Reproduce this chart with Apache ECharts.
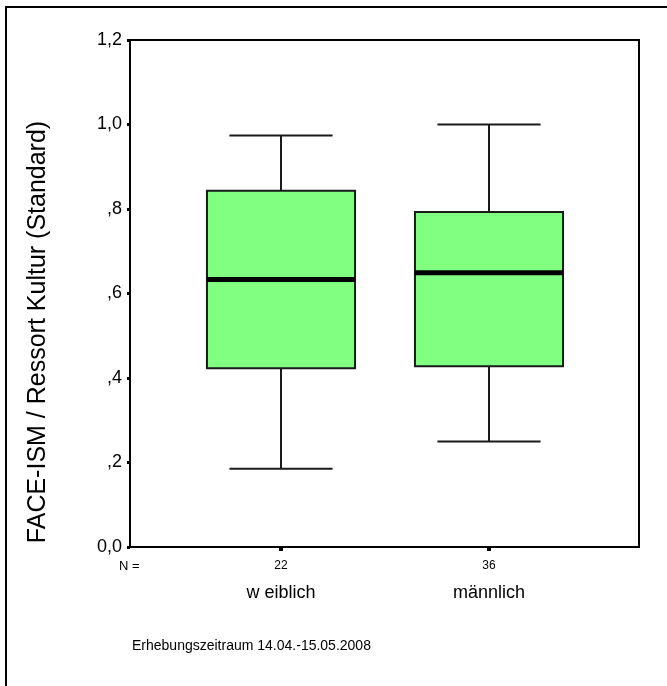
<!DOCTYPE html>
<html>
<head>
<meta charset="utf-8">
<script src="https://cdn.jsdelivr.net/npm/echarts@6/dist/echarts.min.js"></script>
<style>
html,body{margin:0;padding:0;background:#fff;}
#chart{width:667px;height:686px;}
</style>
</head>
<body>
<div id="chart"></div>
<script>
// ---- data ----
var categories = ['w eiblich', 'männlich'];
var counts = ['22', '36'];
var whiskerLow = [0.185, 0.250];
var q1 = [0.423, 0.428];
var median = [0.633, 0.649];
var q3 = [0.843, 0.793];
var whiskerHigh = [0.974, 1.000];
var yTickValues = [0, 0.2, 0.4, 0.6, 0.8, 1.0, 1.2];
var yTickLabels = ['0,0', ',2', ',4', ',6', ',8', '1,0', '1,2'];
var yTitle = 'FACE-ISM / Ressort Kultur (Standard)';
var footnote = 'Erhebungszeitraum 14.04.-15.05.2008';
var nLabel = 'N =';

var FONT = 'Liberation Sans, Arial, sans-serif';
var chart = echarts.init(document.getElementById('chart'), null, {renderer: 'canvas'});

var boxData = categories.map(function (c, i) {
  return [i, whiskerLow[i], q1[i], median[i], q3[i], whiskerHigh[i]];
});

function labelFor(v) {
  for (var i = 0; i < yTickValues.length; i++) {
    if (Math.abs(yTickValues[i] - v) < 1e-6) return yTickLabels[i];
  }
  return '';
}

var option = {
  backgroundColor: '#fff',
  animation: false,
  grid: [
    {left: 130, top: 40, width: 509, height: 507, show: true, borderColor: '#000', borderWidth: 2, backgroundColor: 'transparent'},
    {left: 177, top: 40, width: 416, height: 507, show: false}
  ],
  xAxis: [
    {type: 'value', gridIndex: 0, show: false, min: 0, max: 1},
    {type: 'category', gridIndex: 1, data: counts, boundaryGap: true,
      axisLine: {show: false},
      axisTick: {show: true, alignWithLabel: true, length: 4, lineStyle: {color: '#000', width: 4}},
      axisLabel: {color: '#000', fontFamily: FONT, fontSize: 12, margin: 13}
    },
    {type: 'category', gridIndex: 1, data: categories, boundaryGap: true, position: 'bottom',
      axisLine: {show: false}, axisTick: {show: false},
      axisLabel: {color: '#000', fontFamily: FONT, fontSize: 18, margin: 37}
    }
  ],
  yAxis: [
    {type: 'value', gridIndex: 0, min: 0, max: 1.2, interval: 0.2,
      axisLine: {show: true, lineStyle: {color: '#000', width: 2}},
      axisTick: {show: true, length: 3, lineStyle: {color: '#000', width: 3}},
      axisLabel: {color: '#000', fontFamily: FONT, fontSize: 18, margin: 8, formatter: labelFor},
      splitLine: {show: false}
    },
    {type: 'value', gridIndex: 1, min: 0, max: 1.2, interval: 0.2, show: false}
  ],
  graphic: [
    {type: 'rect', shape: {x: 6, y: 7, width: 720, height: 720}, style: {fill: 'none', stroke: '#000', lineWidth: 2}, silent: true},
    {type: 'text', x: 38, y: 332, rotation: Math.PI / 2,
      style: {text: yTitle, font: '25px ' + FONT, fill: '#000', align: 'center', verticalAlign: 'middle'}},
    {type: 'text', left: 119, top: 560, style: {text: nLabel, font: '13px ' + FONT, fill: '#000'}},
    {type: 'text', left: 132, top: 639, style: {text: footnote, font: '14px ' + FONT, fill: '#000'}}
  ],
  series: [{
    type: 'custom',
    xAxisIndex: 1,
    yAxisIndex: 1,
    data: boxData,
    renderItem: function (params, api) {
      var x = api.value(0);
      var pLow = api.coord([x, api.value(1)]);
      var pQ1 = api.coord([x, api.value(2)]);
      var pMed = api.coord([x, api.value(3)]);
      var pQ3 = api.coord([x, api.value(4)]);
      var pHigh = api.coord([x, api.value(5)]);
      var band = api.size([1, 0])[0];
      var hw = band * 0.356;
      var cw = band * 0.248;
      var cx = pLow[0];
      var lineStyle = {stroke: '#1a1a1a', lineWidth: 2};
      return {
        type: 'group',
        children: [
          {type: 'line', shape: {x1: cx, y1: pHigh[1], x2: cx, y2: pQ3[1]}, style: lineStyle},
          {type: 'line', shape: {x1: cx - cw, y1: pHigh[1], x2: cx + cw, y2: pHigh[1]}, style: lineStyle},
          {type: 'line', shape: {x1: cx, y1: pQ1[1], x2: cx, y2: pLow[1]}, style: lineStyle},
          {type: 'line', shape: {x1: cx - cw, y1: pLow[1], x2: cx + cw, y2: pLow[1]}, style: lineStyle},
          {type: 'rect', shape: {x: cx - hw, y: pQ3[1], width: 2 * hw, height: pQ1[1] - pQ3[1]},
            style: {fill: '#80ff80', stroke: '#1a1a1a', lineWidth: 2}},
          {type: 'line', shape: {x1: cx - hw, y1: pMed[1], x2: cx + hw, y2: pMed[1]}, style: {stroke: '#000', lineWidth: 5}}
        ]
      };
    }
  }]
};
chart.setOption(option);
</script>
</body>
</html>
